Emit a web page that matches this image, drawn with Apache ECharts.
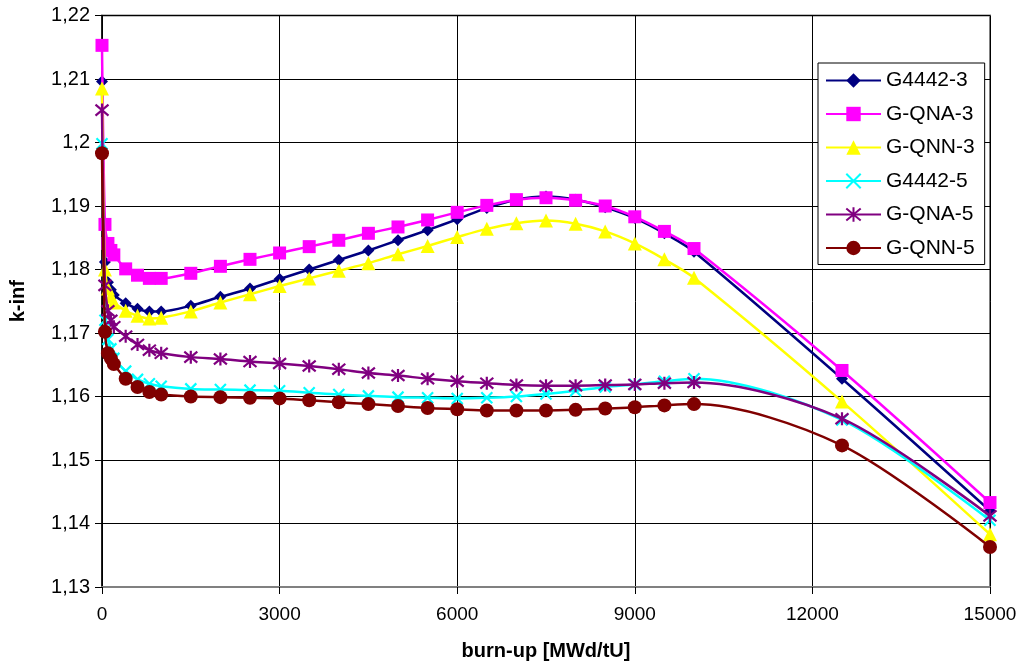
<!DOCTYPE html>
<html>
<head>
<meta charset="utf-8">
<script src="https://cdn.jsdelivr.net/npm/echarts@6/dist/echarts.min.js"></script>
<style>
html,body{margin:0;padding:0;background:#fff;}
#c{width:1023px;height:671px;}
</style>
</head>
<body>
<div id="c"></div>
<script>
var burnup = [0, 50, 100, 150, 200, 400, 600, 800, 1000, 1500, 2000, 2500, 3000, 3500, 4000, 4500, 5000, 5500, 6000, 6500, 7000, 7500, 8000, 8500, 9000, 9500, 10000, 12500, 15000];

var g4442_3 = [1.2096, 1.1812, 1.1780, 1.1768, 1.1760, 1.1747, 1.1738, 1.1734, 1.1734, 1.1743, 1.1757, 1.1770, 1.1785, 1.1800, 1.1815, 1.1830, 1.1846, 1.1862, 1.1879, 1.1897, 1.1910, 1.1915, 1.1910, 1.1898, 1.1881, 1.1857, 1.1828, 1.1628, 1.1420];
var gQNA_3 = [1.2153, 1.1871, 1.1841, 1.1830, 1.1823, 1.1801, 1.1791, 1.1786, 1.1786, 1.1794, 1.1805, 1.1816, 1.1826, 1.1836, 1.1846, 1.1857, 1.1867, 1.1878, 1.1890, 1.1901, 1.1910, 1.1913, 1.1909, 1.1900, 1.1883, 1.1860, 1.1833, 1.1641, 1.1433];
var gQNN_3 = [1.2085, 1.1800, 1.1770, 1.1757, 1.1748, 1.1735, 1.1727, 1.1723, 1.1724, 1.1734, 1.1748, 1.1761, 1.1774, 1.1786, 1.1798, 1.1810, 1.1824, 1.1837, 1.1851, 1.1864, 1.1873, 1.1877, 1.1872, 1.1860, 1.1841, 1.1816, 1.1787, 1.1592, 1.1383];
var g4442_5 = [1.1998, 1.1720, 1.1690, 1.1675, 1.1660, 1.1640, 1.1627, 1.1620, 1.1616, 1.1612, 1.1611, 1.1610, 1.1609, 1.1606, 1.1603, 1.1601, 1.1599, 1.1598, 1.1597, 1.1598, 1.1600, 1.1604, 1.1609, 1.1615, 1.1619, 1.1624, 1.1628, 1.1563, 1.1405];
var gQNA_5 = [1.2051, 1.1775, 1.1735, 1.1720, 1.1710, 1.1695, 1.1682, 1.1673, 1.1668, 1.1662, 1.1659, 1.1655, 1.1652, 1.1648, 1.1643, 1.1637, 1.1633, 1.1628, 1.1624, 1.1621, 1.1618, 1.1617, 1.1617, 1.1618, 1.1619, 1.1621, 1.1622, 1.1565, 1.1412];
var gQNN_5 = [1.1983, 1.1702, 1.1668, 1.1660, 1.1651, 1.1628, 1.1615, 1.1607, 1.1603, 1.1600, 1.1599, 1.1598, 1.1597, 1.1594, 1.1591, 1.1588, 1.1585, 1.1582, 1.1580, 1.1578, 1.1578, 1.1578, 1.1579, 1.1581, 1.1583, 1.1586, 1.1588, 1.1523, 1.1363];

var seriesNames = ['G4442-3', 'G-QNA-3', 'G-QNN-3', 'G4442-5', 'G-QNA-5', 'G-QNN-5'];
var yTickLabels = ['1,13', '1,14', '1,15', '1,16', '1,17', '1,18', '1,19', '1,2', '1,21', '1,22'];
var xTickLabels = ['0', '3000', '6000', '9000', '12000', '15000'];

function pairs(ys) { return burnup.map(function (x, i) { return [x, ys[i]]; }); }

var styles = [
  { color: '#000080', symbol: 'diamond', size: 12, stroke: false },
  { color: '#FF00FF', symbol: 'rect', size: 13, stroke: false },
  { color: '#FFFF00', symbol: 'triangle', size: 14, stroke: false },
  { color: '#00FFFF', symbol: 'path://M0,0L10,10M10,0L0,10', size: 11, stroke: true },
  { color: '#800080', symbol: 'path://M0,0L10,10M10,0L0,10M5,-1L5,11', size: 13, stroke: true },
  { color: '#800000', symbol: 'circle', size: 14, stroke: false }
];
var allData = [g4442_3, gQNA_3, gQNN_3, g4442_5, gQNA_5, gQNN_5];

var series = allData.map(function (d, k) {
  var s = styles[k];
  return {
    name: seriesNames[k],
    type: 'line',
    data: pairs(d),
    smooth: 0.3,
    symbol: s.symbol,
    symbolSize: s.size,
    showAllSymbol: true,
    z: 2 + k,
    lineStyle: { color: s.color, width: 2.5 },
    itemStyle: s.stroke ? { color: s.color, borderColor: s.color, borderWidth: 2.2 } : { color: s.color, borderWidth: 0 },
    emphasis: { disabled: true },
    animation: false
  };
});

var chart = echarts.init(document.getElementById('c'), null, { renderer: 'canvas' });
chart.setOption({
  animation: false,
  backgroundColor: '#ffffff',
  textStyle: { fontFamily: 'Liberation Sans, Arial, sans-serif', color: '#000' },
  grid: { left: 100.5, right: 33, top: 15.5, bottom: 84, show: true, borderColor: '#808080', borderWidth: 2, backgroundColor: '#ffffff' },
  legend: {
    orient: 'vertical',
    left: 818,
    top: 63,
    padding: [7, 10, 6, 7],
    itemWidth: 55,
    itemHeight: 18,
    itemGap: 12.5,
    backgroundColor: '#ffffff',
    borderColor: '#000000',
    borderWidth: 1,
    textStyle: { fontSize: 21, color: '#000', fontFamily: 'Liberation Sans, Arial, sans-serif' },
    data: seriesNames
  },
  xAxis: {
    type: 'value',
    min: 0,
    max: 15000,
    interval: 3000,
    name: 'burn-up [MWd/tU]',
    nameLocation: 'middle',
    nameGap: 54,
    nameTextStyle: { fontSize: 20, fontWeight: 'bold', color: '#000' },
    axisLine: { show: true, lineStyle: { color: '#808080', width: 2 } },
    axisTick: { show: true, length: 7, inside: false, lineStyle: { color: '#000', width: 1 } },
    axisLabel: { fontSize: 19, color: '#000', margin: 18, formatter: function (v) { return xTickLabels[Math.round(v / 3000)]; } },
    splitLine: { show: true, lineStyle: { color: '#000', width: 1 } }
  },
  yAxis: {
    type: 'value',
    min: 1.13,
    max: 1.22,
    interval: 0.01,
    name: 'k-inf',
    nameLocation: 'middle',
    nameGap: 74,
    nameTextStyle: { fontSize: 20, fontWeight: 'bold', color: '#000' },
    axisLine: { show: true, lineStyle: { color: '#000', width: 1.5 } },
    axisTick: { show: true, length: 7, lineStyle: { color: '#000', width: 1 } },
    axisLabel: { fontSize: 20, color: '#000', margin: 12, formatter: function (v) { return yTickLabels[Math.round((v - 1.13) / 0.01)]; } },
    splitLine: { show: true, lineStyle: { color: '#000', width: 1 } }
  },
  series: series
});
</script>
</body>
</html>
